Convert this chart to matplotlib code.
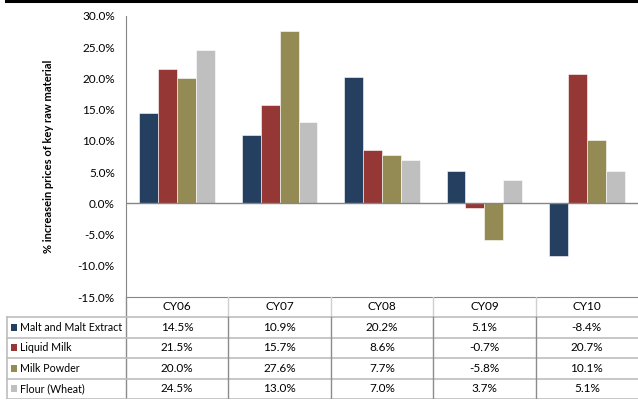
import numpy as np
import matplotlib.pyplot as plt
from matplotlib.patches import Rectangle

plt.rcParams["font.family"] = ["Lato", "DejaVu Sans"]

years = ["CY06", "CY07", "CY08", "CY09", "CY10"]
series_names = ["Malt and Malt Extract", "Liquid Milk", "Milk Powder", "Flour (Wheat)"]
malt = [14.5, 10.9, 20.2, 5.1, -8.4]
liquid_milk = [21.5, 15.7, 8.6, -0.7, 20.7]
milk_powder = [20.0, 27.6, 7.7, -5.8, 10.1]
flour = [24.5, 13.0, 7.0, 3.7, 5.1]
colors = ["#243F60", "#953735", "#948A54", "#BFBFBF"]
yticks = [-15, -10, -5, 0, 5, 10, 15, 20, 25, 30]

W, H = 638, 401
fig = plt.figure(figsize=(W / 100, H / 100), dpi=100)

# black rule across the top
fig.add_artist(plt.Line2D([6 / W, 1], [1 - 1 / H, 1 - 1 / H], color="black", lw=2.2))

ax = fig.add_axes([126 / W, 1 - 297 / H, 512 / W, 281 / H])
data = [malt, liquid_milk, milk_powder, flour]
x = np.arange(len(years))
bw = 0.185
for i, (vals, c) in enumerate(zip(data, colors)):
    ax.bar(x + (i - 1.5) * bw, vals, bw, color=c, edgecolor="white", linewidth=0.4, zorder=2)

ax.set_xlim(-0.5, 4.5)
ax.set_ylim(-15, 30)
ax.set_yticks(yticks)
ax.set_yticklabels([f"{v:.1f}%" for v in yticks], fontsize=8.5)
ax.tick_params(axis="y", length=0, pad=8)
ax.set_xticks([])
ax.axhline(0, color="#868686", lw=1, zorder=3)
for s in ["top", "right"]:
    ax.spines[s].set_visible(False)
ax.spines["left"].set_color("#868686")
ax.spines["bottom"].set_color("#868686")
ax.set_ylabel("% increasein prices of key raw material", fontsize=8, fontweight="bold", labelpad=17)

# data table under the plot
tx = fig.add_axes([0, 1 - 399 / H, 1, 102 / H])
legend_w = 126 / 102.4
tx.set_xlim(-0.5 - legend_w, 4.5)
tx.set_ylim(4 + 20 / 20.5, 0)
tx.axis("off")
x0 = -0.5 - legend_w + 7 / 102.4
hdr = 20 / 20.5
line_c = "#BDBDBD"
vline_c = "#8C8C8C"

# header
for j, yr in enumerate(years):
    tx.text(j, hdr / 2, yr, ha="center", va="center", fontsize=8.5)
for j in range(1, 5):
    tx.plot([j - 0.5, j - 0.5], [0, hdr], color="#D0D0D0", lw=1)
tx.plot([-0.5, -0.5], [0, hdr + 4], color=vline_c, lw=1)

# rows
for i, (name, vals, c) in enumerate(zip(series_names, data, colors)):
    yc = hdr + i + 0.5
    tx.add_patch(Rectangle((x0 + 4 / 102.4, yc - 0.18), 6.5 / 102.4, 0.36,
                           facecolor=c, edgecolor="none"))
    tx.text(x0 + 13.5 / 102.4, yc, name, ha="left", va="center", fontsize=7.7)
    for j, v in enumerate(vals):
        tx.text(j, yc, f"{v:.1f}%", ha="center", va="center", fontsize=8.5)
for k in range(5):
    tx.plot([x0, 4.5], [hdr + k, hdr + k], color=line_c, lw=1.2)
tx.plot([x0, x0], [hdr, hdr + 4], color=line_c, lw=1.2)
for j in range(1, 5):
    tx.plot([j - 0.5, j - 0.5], [hdr, hdr + 4], color=vline_c, lw=1)

fig.savefig("out.png", dpi=100)
